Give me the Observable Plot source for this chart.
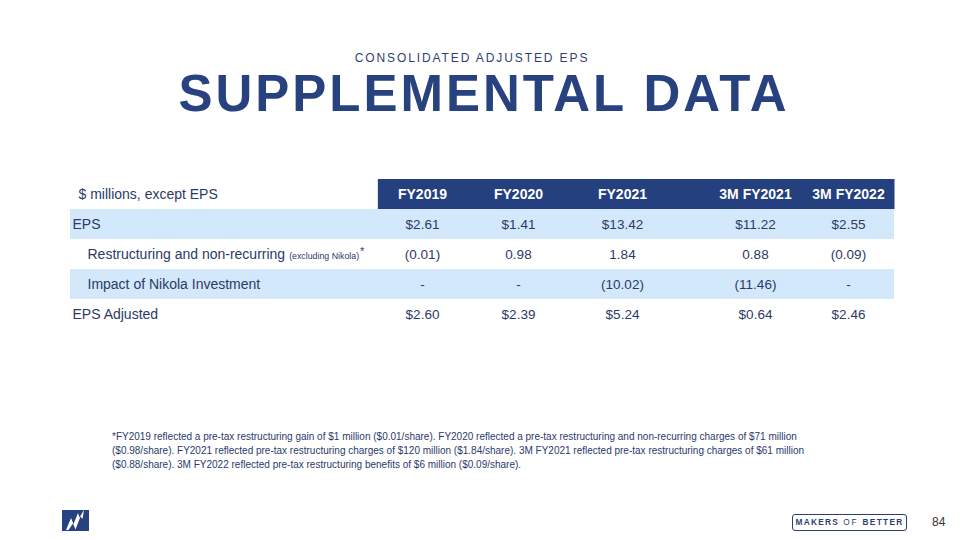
<!DOCTYPE html>
<html>
<head>
<meta charset="utf-8">
<script src="https://cdn.jsdelivr.net/npm/d3@7"></script>
<script src="https://cdn.jsdelivr.net/npm/@observablehq/plot@0.6"></script>
<style>
  html, body { margin: 0; padding: 0; background: #fff; }
  #page { position: relative; width: 960px; height: 540px; overflow: hidden; font-family: "Liberation Sans", Arial, sans-serif; }
  #subtitle { position: absolute; left: 0; width: 960px; top: 52px; text-align: center; font-size: 12px; line-height: 12px; letter-spacing: 1.9px; color: #2c3f74; padding-right: 16px; box-sizing: border-box; }
  #title { position: absolute; left: 0; width: 960px; top: 68px; text-align: center; font-size: 51px; line-height: 51px; font-weight: bold; letter-spacing: 3.0px; color: #27427f; padding-left: 8px; box-sizing: border-box; }
  #chart { position: absolute; left: 0; top: 170px; }
  #footnote { position: absolute; left: 112px; top: 430px; width: 760px; font-size: 10px; line-height: 14px; color: #2b3a6c; white-space: nowrap; }
  #logo { position: absolute; left: 62px; top: 510px; }
  #makers { position: absolute; left: 792px; top: 514px; width: 113px; height: 15px; border: 1.5px solid #2c3f74; border-radius: 3px; font-size: 8.3px; line-height: 15px; text-align: center; color: #2c3f74; letter-spacing: 1.3px; white-space: nowrap; overflow: visible; }
  #makers b { font-weight: bold; }
  #makers span { font-weight: normal; letter-spacing: 1.8px; }
  #pagenum { position: absolute; left: 932px; top: 514px; font-size: 12px; line-height: 16px; color: #333; }
</style>
</head>
<body>
<div id="page">
  <div id="subtitle">CONSOLIDATED ADJUSTED EPS</div>
  <div id="title">SUPPLEMENTAL DATA</div>
  <div id="chart"></div>
  <div id="footnote">*FY2019 reflected a pre-tax restructuring gain of $1 million ($0.01/share). FY2020 reflected a pre-tax restructuring and non-recurring charges of $71 million<br>($0.98/share). FY2021 reflected pre-tax restructuring charges of $120 million ($1.84/share). 3M FY2021 reflected pre-tax restructuring charges of $61 million<br>($0.88/share). 3M FY2022 reflected pre-tax restructuring benefits of $6 million ($0.09/share).</div>
  <svg id="logo" width="27" height="21" viewBox="0 0 27 21">
    <rect x="0" y="0" width="27" height="21" fill="#27427f"/>
    <path d="M4 20 L9 8 L11.5 14 L16 3 L17.5 7.5 L22 0 L20.5 9 L18.5 6.5 L13.5 19.5 L11 13.5 L6.5 20 Z" fill="#fff"/>
  </svg>
  <div id="makers"><b>MAKERS</b><span> OF </span><b>BETTER</b></div>
  <div id="pagenum">84</div>
</div>
<script>
// ---- data ----
const columns = ["FY2019", "FY2020", "FY2021", "3M FY2021", "3M FY2022"];
const headerLabel = "$ millions, except EPS";
const rowLabels = ["EPS", "Restructuring and non-recurring", "Impact of Nikola Investment", "EPS Adjusted"];
const rowNote = "(excluding Nikola)";
const eps = [2.61, 1.41, 13.42, 11.22, 2.55];
const restructuring = [-0.01, 0.98, 1.84, 0.88, -0.09];
const nikolaImpact = [null, null, -10.02, -11.46, null];
const epsAdjusted = [2.60, 2.39, 5.24, 0.64, 2.46];

// ---- build table ----
const seriesByRow = [eps, restructuring, nikolaImpact, epsAdjusted];
const dollarRows = new Set(["EPS", "EPS Adjusted"]);
const indentedRows = new Set(["Restructuring and non-recurring", "Impact of Nikola Investment"]);
const stripedRows = ["EPS", "Impact of Nikola Investment"];

function fmt(v, row) {
  if (v == null) return "-";
  const s = Math.abs(v).toFixed(2);
  if (v < 0) return "(" + s + ")";
  return dollarRows.has(row) ? "$" + s : s;
}

const cells = [];
rowLabels.forEach((row, r) => {
  seriesByRow[r].forEach((v, c) => cells.push({row, col: c, text: fmt(v, row)}));
});
const headers = columns.map((name, c) => ({row: "header", col: c, text: name}));

const fontFamily = "'Liberation Sans', Arial, sans-serif";
const textColor = "#2d3a66";
const navy = "#24407e";
const stripe = "#d3e8fb";
const fs = 13.5;
const labelFs = 14;
const noteFs = 8.8;

// measure label width to place the small note
const ctx = document.createElement("canvas").getContext("2d");
ctx.font = `${labelFs}px 'Liberation Sans', Arial`;
const mainW = ctx.measureText(rowLabels[1]).width;
ctx.font = `${noteFs}px 'Liberation Sans', Arial`;
const noteW = ctx.measureText(rowNote).width;

const leftPad = 2, indent = 17;

const plot = Plot.plot({
  width: 960,
  height: 170,
  marginTop: 8,
  marginBottom: 10,
  marginLeft: 70,
  marginRight: 66,
  x: {type: "linear", domain: [0, 1, 2, 3, 4], range: [422, 518, 622, 755, 848], axis: null},
  y: {type: "band", domain: ["header", ...rowLabels], padding: 0, axis: null},
  style: {fontFamily, overflow: "visible", background: "transparent"},
  marks: [
    Plot.cell(stripedRows, {y: d => d, fill: stripe}),
    Plot.barX(["header"], {y: d => d, x1: -0.46, x2: 4.5, fill: navy, insetTop: 0, insetBottom: 0}),
    Plot.text([headerLabel], {y: () => "header", frameAnchor: "left", dx: 8, textAnchor: "start", text: d => d, fill: textColor, fontSize: 14}),
    Plot.text(headers, {x: "col", y: "row", text: "text", fill: "white", fontWeight: "bold", fontSize: 14}),
    Plot.text(rowLabels.filter(d => !indentedRows.has(d)), {y: d => d, frameAnchor: "left", dx: leftPad, textAnchor: "start", text: d => d, fill: textColor, fontSize: labelFs}),
    Plot.text(rowLabels.filter(d => indentedRows.has(d)), {y: d => d, frameAnchor: "left", dx: indent, textAnchor: "start", text: d => d, fill: textColor, fontSize: labelFs}),
    Plot.text([rowNote], {y: () => rowLabels[1], frameAnchor: "left", dx: indent + mainW + 4, dy: 1.5, textAnchor: "start", text: d => d, fill: textColor, fontSize: noteFs}),
    Plot.text(["*"], {y: () => rowLabels[1], frameAnchor: "left", dx: indent + mainW + 4 + noteW + 1, dy: -3, textAnchor: "start", text: d => d, fill: textColor, fontSize: 11}),
    Plot.text(cells, {x: "col", y: "row", text: "text", fill: textColor, fontSize: fs})
  ]
});
document.getElementById("chart").appendChild(plot);
</script>
</body>
</html>
